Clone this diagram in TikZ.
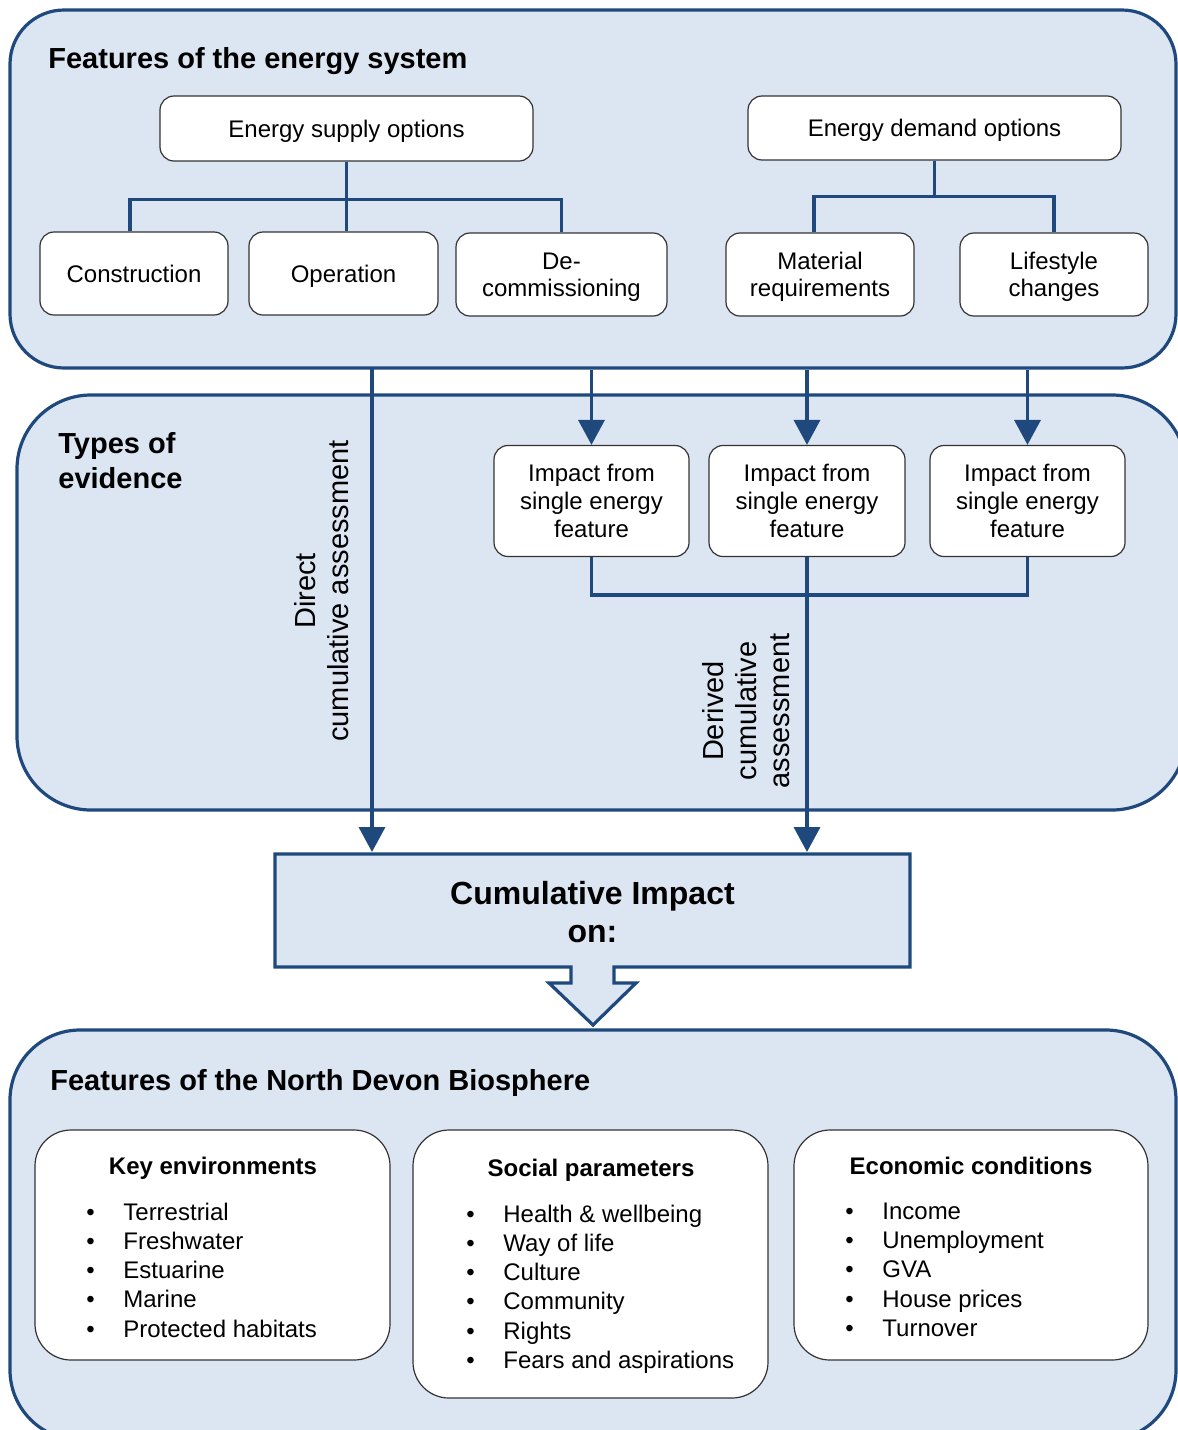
\documentclass[tikz,border=0pt]{standalone}
\usepackage{fontspec}
\setmainfont{Liberation Sans}
\usetikzlibrary{arrows.meta,positioning,calc}
\definecolor{frameblue}{RGB}{31,73,125}
\definecolor{panelblue}{RGB}{220,230,242}

\begin{document}
\begin{tikzpicture}[x=0.5pt,y=-0.5pt,
  panel/.style={draw=frameblue,line width=1.6pt,fill=panelblue,rounded corners=#1,inner sep=0pt},
  option box/.style={draw=black!80,fill=white,rounded corners=7pt,line width=0.6pt,align=center,inner sep=2pt,text depth=0pt,font=\fontsize{12}{13.5}\selectfont},
  impact box/.style={option box,minimum height=55.5pt,font=\fontsize{12}{14}\selectfont},
  list box/.style={draw=black!80,fill=white,rounded corners=18pt,line width=0.6pt,inner sep=0pt},
  heading/.style={anchor=west,align=left,inner sep=0pt,font=\bfseries\fontsize{14.5}{17.5}\selectfont},
  list title/.style={inner sep=0pt,text depth=0pt,font=\bfseries\fontsize{12}{14}\selectfont},
  item list/.style={anchor=north west,align=left,inner sep=0pt,font=\fontsize{12}{14.6}\selectfont},
  side label/.style={rotate=90,align=center,inner sep=0pt,font=\fontsize{14.5}{16.5}\selectfont},
  link/.style={draw=frameblue,line width=1.8pt},
  flow/.style={link,-{Triangle[width=13pt,length=12.5pt]},fill=frameblue}]
\clip (0,0) rectangle (1178,1430);
\newcommand{\itm}{\makebox[18.5pt][l]{\textbullet}}
% panels
\node[panel=27pt,minimum width=583pt,minimum height=179pt] (sysframe) at (593,189) {};
\node[panel=37pt,minimum width=584.5pt,minimum height=207.5pt] (evframe) at (601.5,602.5) {};
\node[panel=35pt,minimum width=583pt,minimum height=205pt] (bioframe) at (593,1235) {};
\node[heading] (syshead) at (48,61) {Features of the energy system};
\node[heading] (evhead) at (58,461) {Types of\\evidence};
\node[heading] (biohead) at (50,1083) {Features of the North Devon Biosphere};
% energy system
\node[option box,minimum width=186.5pt,minimum height=32.5pt] (supply) at (346.5,128.5) {Energy supply options};
\node[option box,minimum width=186.5pt,minimum height=32pt] (demand) at (934.5,128) {Energy demand options};
\node[option box,minimum width=94pt,minimum height=41.5pt] (constr) at (134,273.5) {Construction};
\node[option box,minimum width=94.5pt,minimum height=41.5pt] (oper) at (343.5,273.5) {Operation};
\node[option box,minimum width=105.5pt,minimum height=41.5pt] (decom) at (561.5,274.5) {De-\\commissioning};
\node[option box,minimum width=94pt,minimum height=41.5pt] (mater) at (820,274.5) {Material\\requirements};
\node[option box,minimum width=94pt,minimum height=41.5pt] (life) at (1054,274.5) {Lifestyle\\changes};
\draw[link] (supply.south) -- (supply.south |- oper.north);
\draw[link] (supply.south) ++(0,38) -| ([xshift=-2pt]constr.north);
\draw[link] (supply.south) ++(0,38) -| (decom.north);
\draw[link] (demand.south) -- ++(0,36) -| ([xshift=-3pt]mater.north);
\draw[link] (demand.south) ++(0,36) -| (life.north);
% evidence
\node[impact box,minimum width=97.5pt] (imp1) at (591.5,501) {Impact from\\single energy\\feature};
\node[impact box,minimum width=98pt] (imp2) at (807,501) {Impact from\\single energy\\feature};
\node[impact box,minimum width=97.5pt] (imp3) at (1027.5,501) {Impact from\\single energy\\feature};
\node[side label] (direct) at (322,591) {Direct\\cumulative assessment};
\node[side label] (derived) at (746,711) {Derived\\cumulative\\assessment};
% cumulative impact
\filldraw[draw=frameblue,line width=1.6pt,fill=panelblue,line join=miter]
  (275,854) -- (910,854) -- (910,967) -- (614,967) -- (614,983) -- (636,983) -- (593,1025)
  -- (549,983) -- (571,983) -- (571,967) -- (275,967) -- cycle;
\node[minimum width=317.5pt,minimum height=56.5pt,align=center,font=\bfseries\fontsize{16}{19}\selectfont] (cum) at (592.5,912.5) {Cumulative Impact\\on:};
\coordinate (dtop) at (372,368);
\draw[flow] (dtop) -- (372,852);
\draw[flow] (imp1.north |- sysframe.south) -- (imp1.north);
\draw[flow] (imp2.north |- sysframe.south) -- (imp2.north);
\draw[flow] (imp3.north |- sysframe.south) -- (imp3.north);
\draw[link] (imp1.south) -- ++(0,38) -| (imp3.south);
\draw[flow] (imp2.south) -- (807,852);
% biosphere
\node[list box,minimum width=177.5pt,minimum height=115pt] (keybox) at (212.5,1245) {};
\node[list box,minimum width=177.5pt,minimum height=134pt] (socbox) at (590.5,1264) {};
\node[list box,minimum width=177pt,minimum height=115pt] (ecobox) at (971,1245) {};
\node[list title] (keytitle) at (213,1166) {Key environments};
\node[list title] (soctitle) at (591,1168) {Social parameters};
\node[list title] (ecotitle) at (971,1166) {Economic conditions};
\node[item list] (keylist) at (86,1202.5) {\itm Terrestrial\\\itm Freshwater\\\itm Estuarine\\\itm Marine\\\itm Protected habitats};
\node[item list] (soclist) at (466,1204.5) {\itm Health \& wellbeing\\\itm Way of life\\\itm Culture\\\itm Community\\\itm Rights\\\itm Fears and aspirations};
\node[item list] (ecolist) at (845,1202.5) {\itm Income\\\itm Unemployment\\\itm GVA\\\itm House prices\\\itm Turnover};
\end{tikzpicture}
\end{document}
